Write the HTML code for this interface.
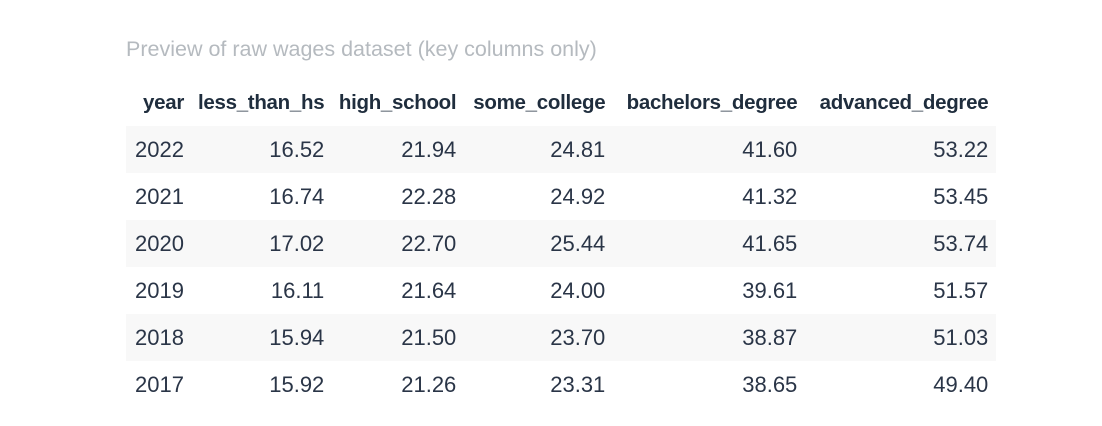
<!DOCTYPE html>
<html><head><style>
body{margin:0;width:1102px;height:426px;background:#fff;font-family:"Liberation Sans",sans-serif;color:#2a3547;position:relative;overflow:hidden}
.t{position:absolute;left:126px;top:37px;font-size:21.5px;color:#b5babf}
table{position:absolute;left:126px;top:79px;border-collapse:collapse;table-layout:fixed}
td,th{padding:0 8px 0 6px;text-align:right;height:47px;white-space:nowrap}
th{font-size:20.5px;font-weight:bold;color:#1f2d3d;letter-spacing:-0.3px}
td{font-size:22px}
tbody tr:nth-child(odd){background:#f8f8f8}
</style></head><body>
<div class="t">Preview of raw wages dataset (key columns only)</div>
<table>
<colgroup><col style="width:66px"><col style="width:139px"><col style="width:132px"><col style="width:149px"><col style="width:192px"><col style="width:191px"></colgroup>
<thead><tr><th>year</th><th>less_than_hs</th><th>high_school</th><th>some_college</th><th>bachelors_degree</th><th>advanced_degree</th></tr></thead>
<tbody>
<tr><td>2022</td><td>16.52</td><td>21.94</td><td>24.81</td><td>41.60</td><td>53.22</td></tr>
<tr><td>2021</td><td>16.74</td><td>22.28</td><td>24.92</td><td>41.32</td><td>53.45</td></tr>
<tr><td>2020</td><td>17.02</td><td>22.70</td><td>25.44</td><td>41.65</td><td>53.74</td></tr>
<tr><td>2019</td><td>16.11</td><td>21.64</td><td>24.00</td><td>39.61</td><td>51.57</td></tr>
<tr><td>2018</td><td>15.94</td><td>21.50</td><td>23.70</td><td>38.87</td><td>51.03</td></tr>
<tr><td>2017</td><td>15.92</td><td>21.26</td><td>23.31</td><td>38.65</td><td>49.40</td></tr>
</tbody></table>
</body></html>
